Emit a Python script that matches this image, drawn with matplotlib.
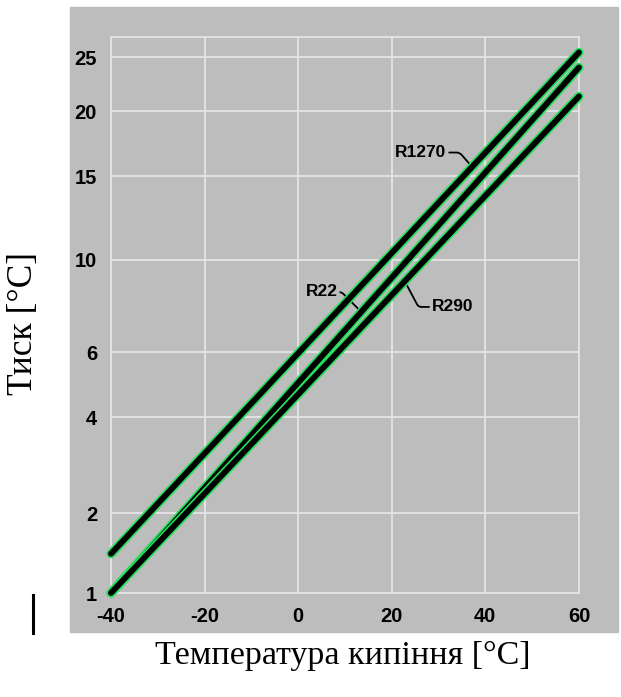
import matplotlib
matplotlib.use('Agg')
import matplotlib.pyplot as plt
import matplotlib.patheffects as pe
import numpy as np
from matplotlib.patches import Rectangle
from matplotlib.lines import Line2D

plt.rcParams['font.family'] = ['Liberation Sans', 'DejaVu Sans']
plt.rcParams['axes.unicode_minus'] = False

# boiling temperature [°C] vs pressure
temps = [-40, 60]
r1270 = [1.43, 25.5]
r22 = [1.0, 24.0]
r290 = [1.0, 21.3]

xticks = [-40, -20, 0, 20, 40, 60]
yticks = [1, 2, 4, 6, 10, 15, 20, 25]

panel = '#bdbdbd'
gridc = '#e4e4e4'
gamma = 0.27  # the chart's pressure axis is a power-type scale


def fwd(v):
    return np.clip(v, 1e-9, None) ** gamma


def inv(v):
    return np.clip(v, 1e-9, None) ** (1 / gamma)


fig = plt.figure(figsize=(6.21, 6.97), dpi=100)
fig.patches.append(Rectangle((0.1127, 0.0933), 0.8825, 0.8967,
                             transform=fig.transFigure, color=panel, zorder=-5))

ax = fig.add_axes([0.1787, 0.1492, 0.7536, 0.7977])
ax.set_facecolor(panel)
ax.set_yscale('function', functions=(fwd, inv))
ax.set_xlim(-40, 60)
ax.set_ylim(1, 27.1)
ax.set_xticks(xticks)
ax.set_yticks(yticks)
ax.set_yticklabels([str(t) for t in yticks])
ax.yaxis.set_minor_locator(matplotlib.ticker.NullLocator())
ax.grid(True, color=gridc, lw=1.3)
ax.set_axisbelow(True)
for s in ax.spines.values():
    s.set_color(gridc)
    s.set_linewidth(1.3)
ax.tick_params(length=0, pad=10, labelsize=14.5)
for lab in ax.get_xticklabels() + ax.get_yticklabels():
    lab.set_fontweight('bold')

fx = [pe.Stroke(linewidth=6.6, foreground='#22e05a'), pe.Normal()]
for ys in (r1270, r22, r290):
    ax.plot(temps, ys, color='black', lw=4.2, solid_capstyle='round',
            path_effects=fx, zorder=4, clip_on=False)

lead = dict(arrowstyle='-', color='black', lw=1.3, shrinkA=0, shrinkB=0)
ax.annotate('R1270', xy=(37.3, 15.6), xytext=(26.2, 16.7), ha='center', va='center',
            fontsize=12.5, fontweight='bold',
            arrowprops=dict(lead, relpos=(1, 0.5),
                            connectionstyle='angle,angleA=0,angleB=-49,rad=3'))
ax.annotate('R22', xy=(13.5, 7.56), xytext=(4.97, 8.43), ha='center', va='center',
            fontsize=12.5, fontweight='bold',
            arrowprops=dict(lead, relpos=(1, 0.5),
                            connectionstyle='angle,angleA=0,angleB=-45,rad=3'))
ax.annotate('R290', xy=(22.7, 8.96), xytext=(33.0, 7.77), ha='center', va='center',
            fontsize=12.5, fontweight='bold',
            arrowprops=dict(lead, relpos=(0, 0.5),
                            connectionstyle='angle,angleA=0,angleB=-62,rad=3'))

ax.set_xlabel('Температура кипіння [°C]', family='Liberation Serif', fontsize=24.5)
ax.xaxis.set_label_coords(0.4957, -0.085)
ax.set_ylabel('Тиск [°C]', family='Liberation Serif', fontsize=25.5)
ax.yaxis.set_label_coords(-0.152, 0.4856)

fig.add_artist(Line2D([33 / 621] * 2, [1 - 595 / 697, 1 - 633 / 697],
                      color='black', lw=2.2))

fig.savefig('out.png', dpi=100)
